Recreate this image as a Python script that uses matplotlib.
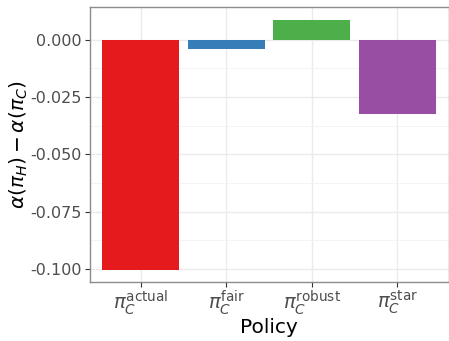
import matplotlib
matplotlib.use("Agg")
import matplotlib.pyplot as plt
import numpy as np

plt.rcParams['mathtext.fontset'] = 'dejavusans'

categories = [r'$\pi_C^{\mathrm{actual}}$', r'$\pi_C^{\mathrm{fair}}$',
              r'$\pi_C^{\mathrm{robust}}$', r'$\pi_C^{\mathrm{star}}$']
values = [-0.1003, -0.0041, 0.0088, -0.0326]
colors = ['#E41A1C', '#377EB8', '#4DAF4A', '#984EA3']
yticks = [0.0, -0.025, -0.05, -0.075, -0.1]
yticklabels = ['0.000', '-0.025', '-0.050', '-0.075', '-0.100']

fig = plt.figure(figsize=(4.49, 3.41), dpi=100)
ax = fig.add_axes([89.5/449, 1-282/341, (448.5-89.5)/449, (282-7)/341])

x = np.arange(1, len(values)+1)
ax.bar(x, values, width=0.9, color=colors, zorder=3)

rng = max(values) - min(values)
ax.set_ylim(min(values) - 0.05*rng, max(values) + 0.05*rng)
ax.set_xlim(0.4, 4.6)

ax.set_yticks(yticks)
ax.set_yticklabels(yticklabels)
ax.set_yticks([-0.0125, -0.0375, -0.0625, -0.0875], minor=True)
ax.set_xticks(x)
ax.set_xticklabels(categories)

ax.grid(True, which='major', color='#EBEBEB', lw=1.0, zorder=0)
ax.grid(True, which='minor', axis='y', color='#F3F3F3', lw=0.6, zorder=0)
ax.tick_params(axis='both', which='major', length=3.5, width=0.8, color='#333333',
               labelcolor='#4D4D4D', labelsize=11.5, pad=2)
ax.tick_params(axis='y', which='minor', length=0)
ax.tick_params(axis='x', labelsize=14, pad=1)
for s in ax.spines.values():
    s.set_color('#8C8C8C')
    s.set_linewidth(1.0)

ax.set_xlabel('Policy', fontsize=14.5, color='black', labelpad=1)
ax.set_ylabel(r'$\alpha(\pi_H) - \alpha(\pi_C)$', fontsize=14.5, color='black', labelpad=0.5)

fig.savefig('out.png', dpi=100)
